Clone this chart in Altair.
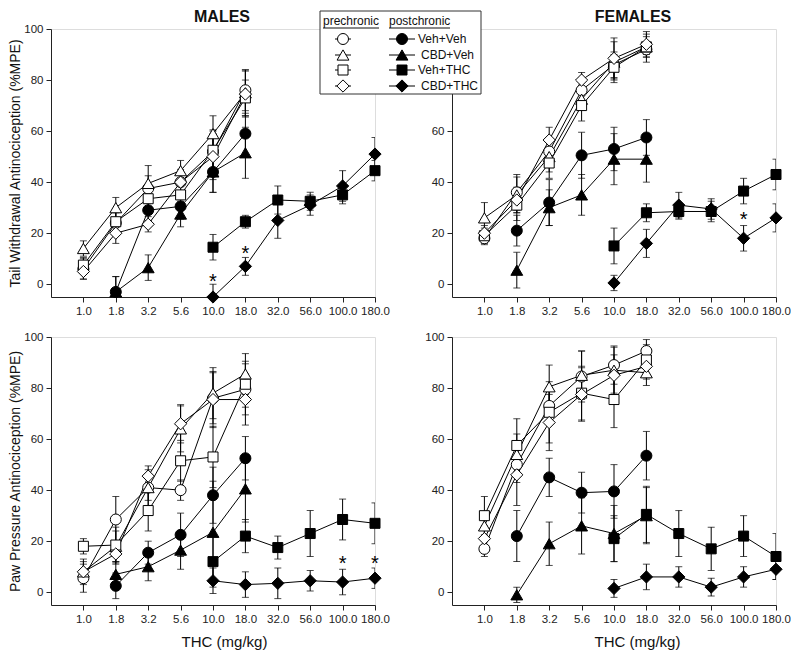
import json
import pandas as pd
import altair as alt

# ---------------- data ----------------
DOSES = ["1.0", "1.8", "3.2", "5.6", "10.0", "18.0", "32.0", "56.0", "100.0", "180.0"]
GROUPS = ["Veh+Veh", "CBD+Veh", "Veh+THC", "CBD+THC"]
PRE_IDX = [0, 1, 2, 3, 4, 5]
POST_IDX = [[1, 2, 3, 4, 5], [1, 2, 3, 4, 5], [4, 5, 6, 7, 8, 9], [4, 5, 6, 7, 8, 9]]
SHAPES = ["circle", "triangle-up", "square", "diamond"]

# Males - tail withdrawal
M_TAIL_PRE = [[6, 24, 37.5, 40, 52, 76],
              [14, 30, 39.5, 44.5, 59, 75],
              [7.5, 24.5, 33.5, 35, 52.5, 73],
              [5, 20, 23.5, 40, 50, 74.5]]
M_TAIL_PRE_SEM = [[4, 4, 5, 5, 8, 8], [3, 4, 7, 4, 7, 9], [3, 4, 3, 4, 8, 7], [3, 4, 3, 4, 9, 9]]
M_TAIL_POST = [[-3, 29, 30.5, 44, 59],
               [-3, 6.5, 27.5, 44, 51.5],
               [14.5, 24.5, 33, 32.5, 35, 44.5],
               [-5, 7, 25, 31, 38.5, 51]]
M_TAIL_POST_SEM = [[6, 4, 5, 8, 8], [6, 5, 5, 8, 10], [5, 2.5, 5.5, 3.5, 3.5, 4], [5, 3.5, 7, 4, 6, 6.5]]
M_TAIL_STAR_IDX = [4, 5]
M_TAIL_STAR_Y = [3, 14]

# Females - tail withdrawal
F_TAIL_PRE = [[18, 36, 52, 76, 86, 92],
              [26, 35, 50, 72.5, 87, 93],
              [19, 31, 47.5, 70, 85, 93],
              [20, 33, 56.5, 80, 88.5, 94]]
F_TAIL_PRE_SEM = [[2.5, 7, 5, 5, 5, 3], [6, 7, 6, 4, 8, 6], [3, 6, 6, 6, 5, 4], [3, 5, 5, 3, 8, 4]]
F_TAIL_POST = [[21, 32, 50.5, 53, 57.5],
               [5.5, 30, 35, 49, 49],
               [15, 28, 28.5, 28.5, 36.5, 43],
               [0.5, 16, 31, 29.5, 18, 26]]
F_TAIL_POST_SEM = [[6, 9, 9, 8.5, 7], [7, 7, 8, 10, 9], [7, 3.5, 3, 4, 5, 6], [3, 5.5, 5, 4, 5, 5.5]]
F_TAIL_STAR_IDX = [8]
F_TAIL_STAR_Y = [27]

# Males - paw pressure
M_PAW_PRE = [[5.5, 28.5, 41, 40, 76, 79.5],
             [8, 18, 41, 64, 78, 85.5],
             [18, 18.5, 32, 51.5, 53, 81.5],
             [8, 15, 45.5, 66, 75.5, 75.5]]
M_PAW_PRE_SEM = [[5.5, 9, 5, 4, 10, 10], [5, 6, 7, 9, 10, 8], [3, 7, 8, 8, 12, 9], [4, 4, 4, 7.5, 11, 10]]
M_PAW_POST = [[2.5, 15.5, 22.5, 38, 52.5],
              [7, 10, 16.5, 23.5, 40.5],
              [12, 22, 17.5, 23, 28.5, 27],
              [4.5, 3, 3.5, 4.5, 4, 5.5]]
M_PAW_POST_SEM = [[5, 4.5, 8.5, 11, 8.5], [5, 5.5, 7.5, 20, 13], [10, 6.5, 4.5, 9, 8, 8], [5, 5, 6, 4, 5, 4]]
M_PAW_STAR_IDX = [8, 9]
M_PAW_STAR_Y = [13, 13]

# Females - paw pressure
F_PAW_PRE = [[17, 50, 73, 84.5, 89, 94.5],
             [26, 54, 80.5, 85, 87, 86],
             [30, 57.5, 70.5, 78, 75.5, 91],
             [21, 46, 66.5, 77.5, 85, 88.5]]
F_PAW_PRE_SEM = [[3, 7, 7, 10, 7.5, 4.5], [5, 8, 8.5, 9.5, 9, 5], [7.5, 10.5, 12, 10.5, 11, 6], [5, 12, 11, 10.5, 8, 5]]
F_PAW_POST = [[22, 45, 39, 39.5, 53.5],
              [-1, 19, 26, 23, 30],
              [21, 30.5, 23, 17, 22, 14],
              [1.5, 6, 6, 2, 6, 9]]
F_PAW_POST_SEM = [[10, 7.5, 8, 10.5, 9.5], [3, 8.5, 11, 11, 11], [9, 11, 9, 8.5, 8, 9], [3.5, 5, 4, 3.5, 4, 4]]
F_PAW_STAR_IDX = []
F_PAW_STAR_Y = []

# ---------------- styling ----------------
FONT = "Liberation Sans"
SIZES = [121, 140, 100, 150]
PANEL_W, PANEL_H = 324, 268


def build(pre, pre_sem, post, post_sem):
    rows = []
    for g in range(4):
        for j, i in enumerate(PRE_IDX):
            rows.append(dict(series="pre-" + GROUPS[g], idx=i, v=pre[g][j], sem=pre_sem[g][j],
                             shape=SHAPES[g], fill="white", size=SIZES[g]))
    for g in range(4):
        for j, i in enumerate(POST_IDX[g]):
            rows.append(dict(series="post-" + GROUPS[g], idx=i, v=post[g][j], sem=post_sem[g][j],
                             shape=SHAPES[g], fill="black", size=SIZES[g]))
    df = pd.DataFrame(rows)
    df["lo"] = df["v"] - df["sem"]
    df["hi"] = df["v"] + df["sem"]
    return df


LABEL_EXPR = json.dumps(DOSES) + "[datum.value]"
XSCALE = alt.Scale(domain=[-1, 9], nice=False, zero=False)
YSCALE = alt.Scale(domain=[-5, 100], nice=False, zero=False)


def x_axis(title, title_x):
    kw = dict(values=list(range(10)), labelExpr=LABEL_EXPR, grid=False, tickSize=5,
              labelFontSize=11.5, labelPadding=3, labelFlush=False, labelOverlap=False,
              domainColor="#222", tickColor="#222", labelColor="#222", labelFont=FONT,
              zindex=0)
    if title:
        kw.update(title=title, titleFontSize=15, titleFont=FONT, titleFontWeight="normal",
                  titleColor="#111", titlePadding=10, titleX=title_x)
    else:
        kw.update(title=None)
    return alt.Axis(**kw)


def y_axis(title, values):
    kw = dict(values=values, grid=False, tickSize=5, labelFontSize=11.5,
              labelPadding=3, labelFont=FONT, domainColor="#222", tickColor="#222",
              labelColor="#222", zindex=0)
    if title:
        kw.update(title=title, titleFontSize=14, titleFont=FONT, titleFontWeight="normal",
                  titleColor="#111", titlePadding=1)
    else:
        kw.update(title=None)
    return alt.Axis(**kw)


def panel(df, star_idx, star_y, ytitle, xtitle, title_x, yvalues, head, head_x):
    xa = x_axis(xtitle, title_x)
    ya = y_axis(ytitle, yvalues)
    X = alt.X("idx:Q", scale=XSCALE, axis=xa)
    base = alt.Chart(df)
    lines = base.mark_line(color="black", strokeWidth=1).encode(
        x=X, y=alt.Y("v:Q", scale=YSCALE, axis=ya), detail="series:N")
    err = base.mark_rule(color="black", strokeWidth=1, clip=True).encode(
        x=X, y=alt.Y("lo:Q", scale=YSCALE, axis=ya), y2="hi:Q")
    cap_lo = base.mark_tick(color="black", orient="horizontal", size=7, thickness=1, clip=True).encode(
        x=X, y=alt.Y("lo:Q", scale=YSCALE, axis=ya))
    cap_hi = base.mark_tick(color="black", orient="horizontal", size=7, thickness=1, clip=True).encode(
        x=X, y=alt.Y("hi:Q", scale=YSCALE, axis=ya))
    pts = base.mark_point(filled=True, stroke="black", strokeWidth=1, opacity=1).encode(
        x=X, y=alt.Y("v:Q", scale=YSCALE, axis=ya),
        shape=alt.Shape("shape:N", scale=None),
        fill=alt.Fill("fill:N", scale=None),
        size=alt.Size("size:Q", scale=None))
    layers = [lines, err, cap_lo, cap_hi, pts]
    if star_idx:
        sdf = pd.DataFrame({"idx": star_idx, "v": star_y})
        stars = alt.Chart(sdf).mark_text(text="*", fontSize=20, font=FONT, color="black",
                                         baseline="alphabetic", dy=11).encode(
            x=X, y=alt.Y("v:Q", scale=YSCALE, axis=ya))
        layers.append(stars)
    if head:
        one = pd.DataFrame({"k": [0]})
        layers.append(alt.Chart(one).mark_text(fontSize=16, fontWeight="bold", font=FONT, color="#111",
                                               align="center", baseline="alphabetic").encode(
            x=alt.value(head_x), y=alt.value(-7), text=alt.value(head)))
    return layers


def legend_layers():
    one = pd.DataFrame({"k": [0]})
    L = [alt.Chart(one).mark_rect(fill="white", stroke="#333", strokeWidth=1).encode(
        x=alt.value(-132), x2=alt.value(29), y=alt.value(-18), y2=alt.value(65))]
    for txt, x0, w in [("prechronic", -129, 56), ("postchronic", -63, 61)]:
        L.append(alt.Chart(one).mark_text(align="left", baseline="middle", fontSize=12, font=FONT,
                                          color="#111").encode(
            x=alt.value(x0), y=alt.value(-8), text=alt.value(txt)))
        L.append(alt.Chart(one).mark_rule(color="#111", strokeWidth=1).encode(
            x=alt.value(x0), x2=alt.value(x0 + w), y=alt.value(-1)))
    row_y = [10, 26, 41, 57]
    label_x = [-34, -31, -34, -31]
    for g in range(4):
        yy = row_y[g]
        L.append(alt.Chart(one).mark_rule(color="black", strokeWidth=1).encode(
            x=alt.value(-117), x2=alt.value(-101), y=alt.value(yy)))
        L.append(alt.Chart(one).mark_point(shape=SHAPES[g], filled=True, fill="white", stroke="black",
                                           strokeWidth=1, opacity=1, size=SIZES[g]).encode(
            x=alt.value(-109), y=alt.value(yy)))
        L.append(alt.Chart(one).mark_rule(color="black", strokeWidth=1).encode(
            x=alt.value(-63), x2=alt.value(-37), y=alt.value(yy)))
        L.append(alt.Chart(one).mark_point(shape=SHAPES[g], filled=True, fill="black", stroke="black",
                                           strokeWidth=1, opacity=1, size=SIZES[g]).encode(
            x=alt.value(-50), y=alt.value(yy)))
        L.append(alt.Chart(one).mark_text(align="left", baseline="middle", fontSize=12, font=FONT,
                                          color="#111").encode(
            x=alt.value(label_x[g]), y=alt.value(yy), text=alt.value(GROUPS[g])))
    return L


ALL_Y = [0, 20, 40, 60, 80, 100]

tl = alt.layer(*panel(build(M_TAIL_PRE, M_TAIL_PRE_SEM, M_TAIL_POST, M_TAIL_POST_SEM),
                      M_TAIL_STAR_IDX, M_TAIL_STAR_Y, "Tail Withdrawal Antinociception (%MPE)", None,
                      0, ALL_Y, "MALES", 171))
tr = alt.layer(*panel(build(F_TAIL_PRE, F_TAIL_PRE_SEM, F_TAIL_POST, F_TAIL_POST_SEM),
                      F_TAIL_STAR_IDX, F_TAIL_STAR_Y, None, None, 0, [0, 20, 40, 60],
                      "FEMALES", 181),
               *legend_layers())
bl = alt.layer(*panel(build(M_PAW_PRE, M_PAW_PRE_SEM, M_PAW_POST, M_PAW_POST_SEM),
                      M_PAW_STAR_IDX, M_PAW_STAR_Y, "Paw Pressure Antinociception (%MPE)",
                      "THC (mg/kg)", 173, ALL_Y, None, 0))
br = alt.layer(*panel(build(F_PAW_PRE, F_PAW_PRE_SEM, F_PAW_POST, F_PAW_POST_SEM),
                      F_PAW_STAR_IDX, F_PAW_STAR_Y, None, "THC (mg/kg)", 185, ALL_Y, None, 0))

tl = tl.properties(width=PANEL_W, height=PANEL_H)
tr = tr.properties(width=PANEL_W, height=PANEL_H)
bl = bl.properties(width=PANEL_W, height=PANEL_H)
br = br.properties(width=PANEL_W, height=PANEL_H)

chart = alt.concat(tl, tr, bl, br, columns=2, spacing={"row": 40, "column": 77},
                   bounds="flush").properties(
    padding={"left": 0, "top": 0, "right": 0, "bottom": 0}
).configure_view(strokeWidth=0).configure(font=FONT)

chart.save("out.html", embed_options={"renderer": "svg", "actions": False})
